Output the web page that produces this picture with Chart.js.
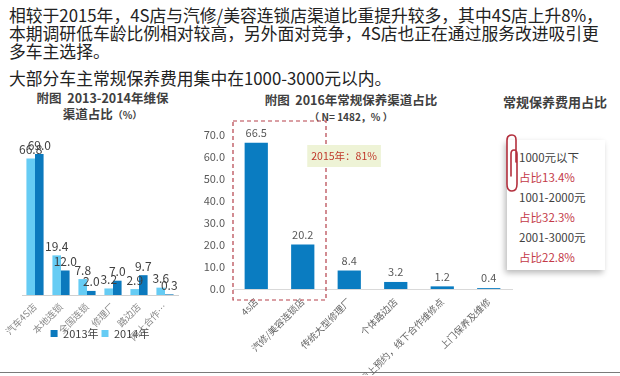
<!DOCTYPE html>
<html><head><meta charset="utf-8">
<script src="https://cdn.jsdelivr.net/npm/chart.js@4/dist/chart.umd.min.js"></script>
<style>
html,body{margin:0;padding:0}
body{width:620px;height:376px;position:relative;background:#fff;font-family:"Noto Sans CJK SC","Noto Sans",sans-serif;overflow:hidden}
.abs{position:absolute;white-space:nowrap}
#intro{left:9px;top:6px;font-size:16.8px;line-height:18px;color:#222}
#summary{left:9px;top:69px;font-size:16.8px;line-height:18px;color:#222}
.ctitle{font-weight:bold;color:#404040;text-align:center;font-size:12.5px;line-height:16px}
#ltitle{left:0;width:205px;top:90px}
#rtitle{left:250px;width:202px;top:92px}
#rtitle .sub{font-size:10px}
#ptitle{left:503px;top:92px;font-weight:bold;color:#404040;font-size:13px}
#box{left:507px;top:140px;width:98px;height:130px;background:#fff;box-shadow:-2px 3px 6px rgba(0,0,0,0.28)}
#box div{position:absolute;left:12px;font-size:11.5px;line-height:14px}
.rng{color:#404040}
.shr{color:#c43a48}
#clip{position:absolute;left:500px;top:132px}
#rule{left:0;top:372px;width:620px;height:1px;background:#7a7a7a}
canvas{position:absolute}
</style></head>
<body>
<div id="intro" class="abs">相较于2015年，4S店与汽修/美容连锁店渠道比重提升较多，其中4S店上升8%，<br>本期调研低车龄比例相对较高，另外面对竞争，4S店也正在通过服务改进吸引更<br>多车主选择。</div>
<div id="summary" class="abs">大部分车主常规保养费用集中在1000-3000元以内。</div>
<div id="ltitle" class="abs ctitle">附图&nbsp;&nbsp;2013-2014年维保<br>渠道占比<span style="font-size:10px">（%）</span></div>
<div id="rtitle" class="abs ctitle">附图&nbsp;&nbsp;2016年常规保养渠道占比<br><span class="sub">（ N= 1482，% ）</span></div>
<div id="ptitle" class="abs">常规保养费用占比</div>
<div id="box" class="abs"></div>
<svg id="clip" width="24" height="66" viewBox="0 0 24 66"><path d="M16 30 L16 8 Q16 3 12 3 Q7 3 7 8 L7 52 Q7 59 12 59 Q17 59 17 52 L17 22 Q17 18 14 18 Q11 18 11 22 L11 44" fill="none" stroke="#b3303e" stroke-width="1.6" stroke-linecap="round"/></svg>
<div id="rule" class="abs"></div>
<canvas id="left" width="200" height="209" style="left:-5px;top:140px;width:200px;height:209px"></canvas>
<canvas id="right" width="330" height="255" style="left:200px;top:120px;width:330px;height:255px"></canvas>
<script>
// ---- data ----
const leftCategories = ["汽车4S店", "本地连锁", "全国连锁", "修理厂", "路边店", "网上合作…"];
const values2013 = [69.0, 12.0, 2.0, 7.0, 9.7, 0.3];
const values2014 = [66.8, 19.4, 7.8, 3.2, 2.9, 3.6];
const seriesNames = ["2013年", "2014年"];

const rightCategories = ["4s店", "汽修/美容连锁店", "传统大型修理厂", "个体路边店", "网上预约，线下合作维修点", "上门保养及维修"];
const values2016 = [66.5, 20.2, 8.4, 3.2, 1.2, 0.4];
const rightTicks = [0, 10, 20, 30, 40, 50, 60, 70];
const highlightNote = "2015年：81%";

const costRanges = ["1000元以下", "1001-2000元", "2001-3000元"];
const costShares = [13.4, 32.3, 22.8];

// ---- cost box text ----
const box = document.getElementById('box');
costRanges.forEach((r, i) => {
  const a = document.createElement('div'); a.className = 'rng'; a.textContent = r; a.style.top = (10 + i * 40) + 'px'; box.appendChild(a);
  const b = document.createElement('div'); b.className = 'shr'; b.textContent = '占比' + costShares[i].toFixed(1) + '%'; b.style.top = (30 + i * 40) + 'px'; box.appendChild(b);
});

Chart.defaults.font.family = '"Noto Sans CJK SC","Noto Sans",sans-serif';

const valueLabels = {
  id: 'valueLabels',
  afterDatasetsDraw(chart, args, opts) {
    const ctx = chart.ctx;
    ctx.save();
    ctx.font = opts.font;
    ctx.fillStyle = opts.color;
    ctx.textAlign = 'center';
    ctx.textBaseline = 'middle';
    chart.data.datasets.forEach((ds, i) => {
      const meta = chart.getDatasetMeta(i);
      meta.data.forEach((bar, j) => {
        ctx.fillText(ds.data[j].toFixed(1), bar.x, bar.y - opts.offset);
      });
    });
    ctx.restore();
  }
};

const highlightBox = {
  id: 'highlightBox',
  afterDatasetsDraw(chart, args, opts) {
    if (!opts || opts.from === undefined) return;
    const ctx = chart.ctx, x = chart.scales.x, area = chart.chartArea;
    const half = (x.getPixelForValue(1) - x.getPixelForValue(0)) / 2;
    const l = x.getPixelForValue(opts.from) - half, r = x.getPixelForValue(opts.to) + half;
    const t = area.top - 14, b = area.bottom + 11;
    ctx.save();
    ctx.setLineDash([4, 3]);
    ctx.strokeStyle = '#b5404a';
    ctx.lineWidth = 1.2;
    ctx.strokeRect(l, t, r - l, b - t);
    ctx.setLineDash([]);
    ctx.font = '10.5px "Noto Sans CJK SC"';
    const w = ctx.measureText(opts.note).width + 8;
    const nx = x.getPixelForValue(opts.to) + 4.5, ny = area.top + 10;
    ctx.fillStyle = '#eef3d6';
    ctx.fillRect(nx, ny, w, 22);
    ctx.fillStyle = '#c0392b';
    ctx.textBaseline = 'middle';
    ctx.textAlign = 'left';
    ctx.fillText(opts.note, nx + 4, ny + 11);
    ctx.restore();
  }
};

new Chart(document.getElementById('left'), {
  type: 'bar',
  data: {
    labels: leftCategories,
    datasets: [
      { label: seriesNames[1], data: values2014, backgroundColor: '#66ccf4' },
      { label: seriesNames[0], data: values2013, backgroundColor: '#0b79bd' }
    ]
  },
  options: {
    responsive: false, animation: false, devicePixelRatio: 1,
    layout: { padding: { top: 12, left: 27, right: 17, bottom: 0 } },
    datasets: { bar: { barPercentage: 1, categoryPercentage: 0.66 } },
    scales: {
      x: {
        grid: { display: false, drawTicks: false },
        border: { display: true, color: '#d0d0d0' },
        ticks: { minRotation: 45, maxRotation: 45, autoSkip: false, padding: 6, color: '#8a8a8a', font: { size: 9.5 } },
        afterFit(s) { s.height = 30; s._computeLabelArea = () => undefined; }
      },
      y: { display: false, min: 0, max: 70 }
    },
    plugins: {
      legend: {
        position: 'bottom', reverse: true,
        labels: { boxWidth: 7, boxHeight: 7, padding: 3, color: '#404040', font: { size: 11 } }
      },
      tooltip: { enabled: false },
      valueLabels: { font: '12px "Noto Sans CJK SC"', color: '#404040', offset: 9 }
    }
  },
  plugins: [valueLabels]
});

new Chart(document.getElementById('right'), {
  type: 'bar',
  data: {
    labels: rightCategories,
    datasets: [{ label: '2016', data: values2016, backgroundColor: '#0a7cc1', barPercentage: 1, categoryPercentage: 0.5 }]
  },
  options: {
    responsive: false, animation: false, devicePixelRatio: 1,
    layout: { padding: { top: 15, left: 0, right: 18, bottom: 0 } },
    scales: {
      x: {
        grid: { display: false, drawTicks: false },
        border: { display: true, color: '#d9d9d9' },
        ticks: { minRotation: 45, maxRotation: 45, autoSkip: false, padding: 7, color: '#666', font: { size: 9.5 } },
        afterFit(s) { s.height = 86; }
      },
      y: {
        min: 0, max: 70,
        grid: { display: false, drawTicks: false },
        border: { display: false },
        afterBuildTicks(s) { s.ticks = rightTicks.map(v => ({ value: v })); },
        ticks: { padding: 8, color: '#595959', font: { size: 11 }, callback: v => Number(v).toFixed(1) },
        afterFit(s) { s.width = 33; }
      }
    },
    plugins: {
      legend: { display: false },
      tooltip: { enabled: false },
      valueLabels: { font: '11px "Noto Sans CJK SC"', color: '#595959', offset: 10 },
      highlightBox: { from: 0, to: 1, note: highlightNote }
    }
  },
  plugins: [valueLabels, highlightBox]
});
</script>
</body></html>
